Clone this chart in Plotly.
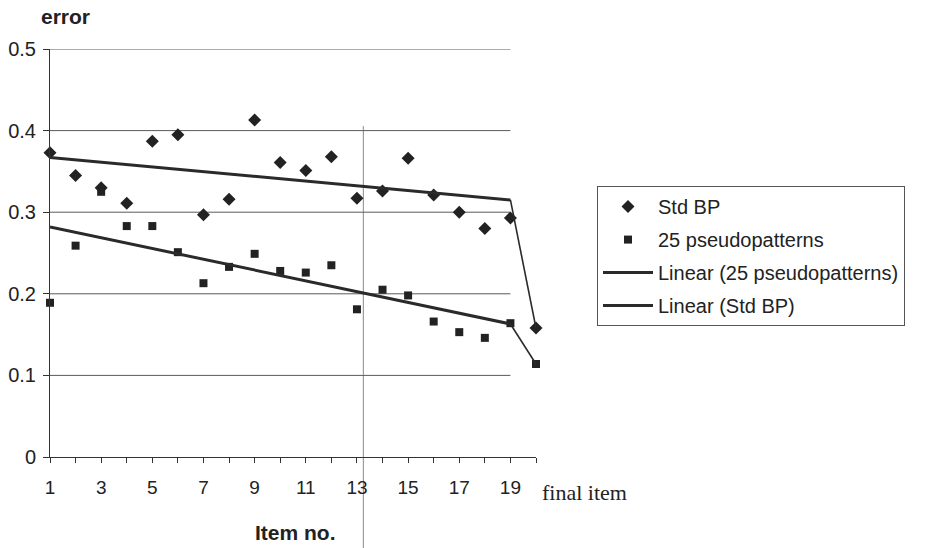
import plotly.graph_objects as go

# ---- data ----
items = list(range(1, 21))                     # item 20 = "final item"
std_bp = [0.373, 0.345, 0.330, 0.311, 0.387, 0.395, 0.297, 0.316, 0.413, 0.361,
          0.351, 0.368, 0.317, 0.326, 0.366, 0.321, 0.300, 0.280, 0.293, 0.158]
pseudo25 = [0.189, 0.259, 0.325, 0.283, 0.283, 0.251, 0.213, 0.233, 0.249, 0.228,
            0.226, 0.235, 0.181, 0.205, 0.198, 0.166, 0.153, 0.146, 0.164, 0.114]
trend_x = [1, 19]
trend_std = [0.367, 0.315]
trend_pseudo = [0.282, 0.163]
ytick_vals = [0, 0.1, 0.2, 0.3, 0.4, 0.5]
ytick_text = ["0", "0.1", "0.2", "0.3", "0.4", "0.5"]
xtick_vals = items
xtick_text = [str(i) if i % 2 == 1 and i < 20 else "" for i in items]

INK = "#222222"
LINE = "#2a2a2a"
FONT = "Liberation Sans, Arial, sans-serif"

fig = go.Figure()
fig.add_trace(go.Scatter(x=items, y=std_bp, mode="markers", name="Std BP",
                         marker=dict(symbol="diamond", size=10, color=INK),
                         cliponaxis=False, legendgroup="a"))
fig.add_trace(go.Scatter(x=items, y=pseudo25, mode="markers", name="25 pseudopatterns",
                         marker=dict(symbol="square", size=8, color=INK),
                         cliponaxis=False, legendgroup="b"))
fig.add_trace(go.Scatter(x=trend_x, y=trend_pseudo, mode="lines",
                         name="Linear (25 pseudopatterns)",
                         line=dict(color=LINE, width=3), legendgroup="c"))
fig.add_trace(go.Scatter(x=trend_x, y=trend_std, mode="lines",
                         name="Linear (Std BP)",
                         line=dict(color=LINE, width=3), legendgroup="d"))
# connectors from trend end to final item
fig.add_trace(go.Scatter(x=[trend_x[-1], items[-1]], y=[trend_std[-1], std_bp[-1]],
                         mode="lines", line=dict(color=LINE, width=1.6),
                         showlegend=False, cliponaxis=False))
fig.add_trace(go.Scatter(x=[trend_x[-1], items[-1]], y=[trend_pseudo[-1], pseudo25[-1]],
                         mode="lines", line=dict(color=LINE, width=1.6),
                         showlegend=False, cliponaxis=False))

shapes = []
for v in ytick_vals[1:]:
    shapes.append(dict(type="line", xref="x", yref="y", x0=1, x1=19, y0=v, y1=v,
                       line=dict(color="#5a5a5a", width=1), layer="below"))
# scan fold line
shapes.append(dict(type="line", xref="x", yref="paper", x0=13.25, x1=13.25,
                   y0=0.811, y1=-0.23, line=dict(color="#8a8a8a", width=1), layer="below"))

fig.update_layout(
    width=931, height=548,
    margin=dict(l=50, r=395, t=49, b=91),
    paper_bgcolor="white", plot_bgcolor="white",
    font=dict(family=FONT, size=19, color=INK),
    shapes=shapes,
    showlegend=True,
    legend=dict(x=1.1255, y=0.664, xanchor="left", yanchor="top",
                bordercolor="#555", borderwidth=1, bgcolor="white",
                font=dict(size=20, family=FONT, color=INK),
                tracegroupgap=4, itemwidth=50),
    xaxis=dict(range=[1, 20], tickvals=xtick_vals, ticktext=xtick_text,
               showgrid=False, zeroline=False, showline=True, linecolor="#333",
               linewidth=1, ticks="outside", ticklen=5, tickcolor="#333",
               tickfont=dict(size=19), ticklabelstandoff=8, automargin=False),
    xaxis2=dict(range=[1, 20], tickvals=xtick_vals, overlaying="x", anchor="y",
                side="bottom", showticklabels=False, showgrid=False, zeroline=False,
                showline=False, ticks="inside", ticklen=4, tickcolor="#333",
                automargin=False),
    yaxis=dict(range=[0, 0.5], tickvals=ytick_vals, ticktext=ytick_text,
               showgrid=False, zeroline=False, showline=True, linecolor="#333",
               linewidth=1, ticks="outside", ticklen=6, tickcolor="#333",
               tickfont=dict(size=20), ticklabelstandoff=3, automargin=False),
    annotations=[
        dict(text="<b>error</b>", xref="paper", yref="paper", x=-0.0226, y=1.079,
             xanchor="left", yanchor="middle", showarrow=False,
             font=dict(size=21, family=FONT)),
        dict(text="<b>Item no.</b>", xref="paper", yref="paper", x=0.505, y=-0.184,
             xanchor="center", yanchor="middle", showarrow=False,
             font=dict(size=21, family=FONT)),
        dict(text="final item", xref="x", yref="paper", x=20, y=-0.0858,
             xanchor="left", yanchor="middle", xshift=4, showarrow=False,
             font=dict(size=22, family="Liberation Serif, Times New Roman, serif")),
    ],
)

fig.write_html("out.html")
